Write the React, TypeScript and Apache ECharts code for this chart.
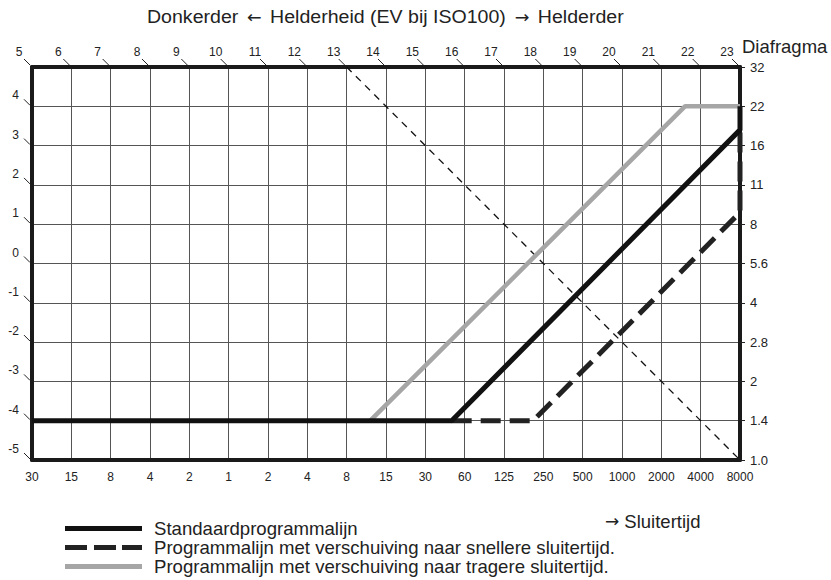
import React, { useEffect, useRef } from "react";
import * as echarts from "echarts";

const shutterLabels = ["30", "15", "8", "4", "2", "1", "2", "4", "8", "15", "30", "60", "125", "250", "500", "1000", "2000", "4000", "8000"];
const topEvLabels = ["5", "6", "7", "8", "9", "10", "11", "12", "13", "14", "15", "16", "17", "18", "19", "20", "21", "22", "23"];
const leftEvLabels = ["-5", "-4", "-3", "-2", "-1", "0", "1", "2", "3", "4", ""];
const apertureLabels = ["1.0", "1.4", "2", "2.8", "4", "5.6", "8", "11", "16", "22", "32"];

const standardLine = [[0, -4], [10.67, -4], [18, 3.4], [18, 4]];
const fastShiftLine = [[10.67, -4], [12.74, -4], [18, 1.3], [18, 3.4]];
const slowShiftLine = [[8.6, -4], [16.6, 4], [18, 4]];
const guideLine = [[8, 5], [18, -5]];

const topTickPoints = topEvLabels.map((_, i) => [i, 5]);
const leftTickPoints = leftEvLabels.slice(0, 10).map((_, i) => [0, i - 5]);

const seriesNames = [
  "Standaardprogrammalijn",
  "Programmalijn met verschuiving naar snellere sluitertijd.",
  "Programmalijn met verschuiving naar tragere sluitertijd.",
];

const FONT = '"Liberation Sans", Arial, sans-serif';
const ARROW_FONT = '"DejaVu Sans", sans-serif';
const FRAME = "#1a1a1a";

export default function App() {
  const ref = useRef<HTMLDivElement>(null);
  useEffect(() => {
    if (!ref.current) return;
    const chart = echarts.init(ref.current, undefined, { renderer: "svg" });
    const axisLine = { show: true, onZero: false, lineStyle: { color: FRAME, width: 4 } };
    const tickRender = (dx1: number, dy1: number, dx2: number, dy2: number) => (params: any, api: any) => {
      const p = api.coord([api.value(0), api.value(1)]);
      return {
        type: "line",
        shape: { x1: p[0] + dx1, y1: p[1] + dy1, x2: p[0] + dx2, y2: p[1] + dy2 },
        style: { stroke: "#222", lineWidth: 1 },
      };
    };
    chart.setOption({
      animation: false,
      backgroundColor: "#fff",
      textStyle: { fontFamily: FONT },
      legend: {
        orient: "vertical",
        left: 65,
        top: 519,
        height: 61,
        padding: 0,
        itemWidth: 77,
        itemHeight: 5,
        itemGap: 0,
        selectedMode: false,
        itemStyle: { borderWidth: 0 },
        textStyle: { fontFamily: FONT, fontSize: 18.6, color: "#222", lineHeight: 19, padding: [0, 0, 0, 7] },
        data: [
          { name: seriesNames[0], icon: "rect" },
          { name: seriesNames[1], icon: "path://M0,0H22V5H0Z M29,0H51V5H29Z M57,0H77V5H57Z" },
          { name: seriesNames[2], icon: "rect" },
        ],
      },
      graphic: [
        {
          type: "text",
          x: 147,
          y: 17,
          scaleX: 1.03,
          style: {
            text: "Donkerder {a|\u2190} Helderheid (EV bij ISO100) {a|\u2192} Helderder",
            font: `19px ${FONT}`,
            fill: "#222",
            verticalAlign: "middle",
            rich: { a: { fontFamily: ARROW_FONT, fontSize: 17, fill: "#222", padding: [0, 3, 0, 3] } },
          },
        },
        {
          type: "text",
          x: 742,
          y: 46,
          style: { text: "Diafragma", font: `18.5px ${FONT}`, fill: "#222", verticalAlign: "middle" },
        },
        {
          type: "text",
          x: 605,
          y: 521,
          style: {
            text: "{a|\u2192} Sluitertijd",
            font: `18.5px ${FONT}`,
            fill: "#222",
            verticalAlign: "middle",
            rich: { a: { fontFamily: ARROW_FONT, fontSize: 17, fill: "#222" } },
          },
        },
      ],
      grid: { left: 32, right: 91, top: 67, bottom: 120, containLabel: false },
      xAxis: [
        {
          type: "value",
          position: "bottom",
          min: 0,
          max: 18,
          interval: 1,
          axisLine,
          axisTick: { show: false },
          splitLine: { show: true, lineStyle: { color: "#555", width: 1 } },
          axisLabel: {
            formatter: (v: number) => shutterLabels[Math.round(v)] ?? "",
            margin: 11,
            fontSize: 12,
            color: "#222",
            fontFamily: FONT,
          },
        },
        {
          type: "value",
          position: "top",
          min: 0,
          max: 18,
          interval: 1,
          axisLine,
          axisTick: { show: false },
          splitLine: { show: false },
          axisLabel: {
            formatter: (v: number) => topEvLabels[Math.round(v)] ?? "",
            margin: 9,
            padding: [0, 26, 0, 0],
            fontSize: 12,
            color: "#222",
            fontFamily: FONT,
          },
        },
      ],
      yAxis: [
        {
          type: "value",
          position: "left",
          min: -5,
          max: 5,
          interval: 1,
          axisLine,
          axisTick: { show: false },
          splitLine: { show: true, lineStyle: { color: "#555", width: 1 } },
          axisLabel: {
            formatter: (v: number) => leftEvLabels[Math.round(v + 5)] ?? "",
            margin: 13,
            verticalAlign: "bottom",
            lineHeight: 22,
            fontSize: 12,
            color: "#222",
            fontFamily: FONT,
          },
        },
        {
          type: "value",
          position: "right",
          min: 0,
          max: 10,
          interval: 1,
          axisLine,
          axisTick: { show: true, length: 5, lineStyle: { color: "#222", width: 1 } },
          splitLine: { show: false },
          axisLabel: {
            formatter: (v: number) => apertureLabels[Math.round(v)] ?? "",
            margin: 10,
            fontSize: 13,
            color: "#222",
            fontFamily: FONT,
          },
        },
      ],
      series: [
        {
          name: "guide",
          type: "line",
          data: guideLine,
          symbol: "none",
          clip: false,
          lineStyle: { color: "#111", width: 1.3, type: [7, 6] },
          z: 3,
        },
        {
          name: seriesNames[2],
          type: "line",
          data: slowShiftLine,
          symbol: "none",
          clip: false,
          color: "#a6a6a6",
          lineStyle: { color: "#a6a6a6", width: 4.5 },
          z: 4,
        },
        {
          name: seriesNames[1],
          type: "line",
          data: fastShiftLine,
          symbol: "none",
          clip: false,
          color: "#222",
          lineStyle: { color: "#222", width: 5, type: [20, 9] },
          z: 5,
        },
        {
          name: seriesNames[0],
          type: "line",
          data: standardLine,
          symbol: "none",
          clip: false,
          color: "#111",
          lineStyle: { color: "#111", width: 5 },
          z: 6,
        },
        {
          name: "topTicks",
          type: "custom",
          xAxisIndex: 0,
          yAxisIndex: 0,
          data: topTickPoints,
          clip: false,
          silent: true,
          renderItem: tickRender(-8, -8, -2, -2),
          z: 7,
        },
        {
          name: "leftTicks",
          type: "custom",
          xAxisIndex: 0,
          yAxisIndex: 0,
          data: leftTickPoints,
          clip: false,
          silent: true,
          renderItem: tickRender(-8, -7, -2, -1),
          z: 7,
        },
      ],
    });
    return () => chart.dispose();
  }, []);
  return <div ref={ref} style={{ position: "fixed", left: 0, top: 0, width: 831, height: 580 }} />;
}
